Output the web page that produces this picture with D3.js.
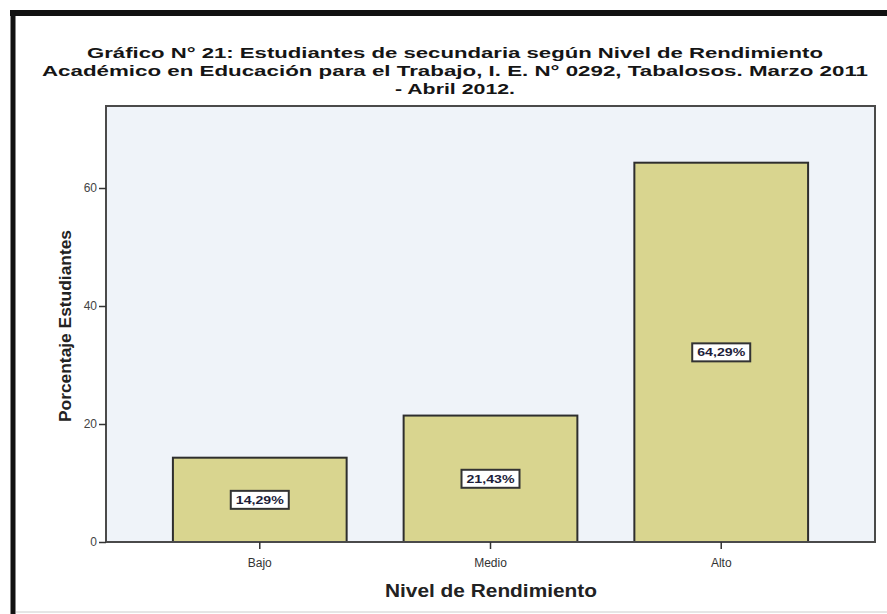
<!DOCTYPE html>
<html>
<head>
<meta charset="utf-8">
<script src="https://cdn.jsdelivr.net/npm/d3@7"></script>
<style>
  body { margin: 0; background: #fff; }
  svg { display: block; font-family: "Liberation Sans", Arial, sans-serif; }
</style>
</head>
<body>
<svg id="chart"></svg>
<script>
const WIDTH = 887;
const HEIGHT = 614;

// datos
const niveles = ["Bajo", "Medio", "Alto"];
const porcentajes = [14.29, 21.43, 64.29];
const etiquetas = ["14,29%", "21,43%", "64,29%"];
const yTicks = [0, 20, 40, 60];
const tituloLineas = [
  "Gráfico N° 21: Estudiantes de secundaria según Nivel de Rendimiento",
  "Académico en Educación para el Trabajo,  I. E. N° 0292, Tabalosos. Marzo 2011",
  "- Abril 2012."
];
const tituloAnchos = [736, 826, 120];

const plot = { left: 106, right: 875, top: 106, bottom: 542 };
const BAR_FILL = "#d9d58f";
const FONT = "Liberation Sans, Arial, sans-serif";

const svg = d3.select("#chart").attr("width", WIDTH).attr("height", HEIGHT);

// marco exterior
svg.append("rect").attr("x", 0).attr("y", 0).attr("width", WIDTH).attr("height", HEIGHT).attr("fill", "#fff");
svg.append("line").attr("x1", 10).attr("x2", WIDTH).attr("y1", 13).attr("y2", 13)
   .attr("stroke", "#111").attr("stroke-width", 6);
svg.append("line").attr("x1", 13).attr("x2", 13).attr("y1", 10).attr("y2", HEIGHT)
   .attr("stroke", "#111").attr("stroke-width", 5);
svg.append("line").attr("x1", 16).attr("x2", WIDTH).attr("y1", 612).attr("y2", 612)
   .attr("stroke", "#ccc").attr("stroke-width", 1);

// titulo (tres lineas, sin solaparse)
tituloLineas.forEach((t, i) => {
  svg.append("text")
     .attr("x", 455).attr("y", 58 + i * 18)
     .attr("text-anchor", "middle")
     .attr("font-weight", "bold")
     .attr("font-size", 15.5)
     .attr("fill", "#151515")
     .attr("textLength", tituloAnchos[i])
     .attr("lengthAdjust", "spacingAndGlyphs")
     .text(t);
});

const xScale = d3.scaleBand()
   .domain(niveles)
   .range([plot.left, plot.right])
   .paddingInner(0.247)
   .paddingOuter(0.29);

const yScale = d3.scaleLinear()
   .domain([0, 73.9])
   .range([plot.bottom, plot.top]);

// fondo del area
svg.append("rect")
   .attr("x", plot.left).attr("y", plot.top)
   .attr("width", plot.right - plot.left).attr("height", plot.bottom - plot.top)
   .attr("fill", "#eff3f9");

// barras
svg.selectAll("rect.bar")
   .data(niveles)
   .enter()
   .append("rect")
   .attr("class", "bar")
   .attr("x", d => xScale(d))
   .attr("y", (_, i) => yScale(porcentajes[i]))
   .attr("width", xScale.bandwidth())
   .attr("height", (_, i) => plot.bottom - yScale(porcentajes[i]))
   .attr("fill", BAR_FILL)
   .attr("stroke", "#2e2e2e")
   .attr("stroke-width", 2);

// marco del area
svg.append("rect")
   .attr("x", plot.left).attr("y", plot.top)
   .attr("width", plot.right - plot.left).attr("height", plot.bottom - plot.top)
   .attr("fill", "none")
   .attr("stroke", "#4a4a4a")
   .attr("stroke-width", 2);

// ejes
const axisY = svg.append("g")
   .attr("transform", `translate(${plot.left},0)`)
   .call(d3.axisLeft(yScale).tickValues(yTicks).tickSize(7).tickPadding(2));
axisY.select(".domain").remove();
axisY.selectAll("line").attr("stroke", "#333").attr("stroke-width", 1.5);
axisY.selectAll("text").attr("font-size", 12).attr("fill", "#444").attr("font-family", FONT);

const axisX = svg.append("g")
   .attr("transform", `translate(0,${plot.bottom})`)
   .call(d3.axisBottom(xScale).tickSize(7).tickPadding(9));
axisX.select(".domain").remove();
axisX.selectAll("line").attr("stroke", "#333").attr("stroke-width", 1.5);
axisX.selectAll("text").attr("font-size", 12).attr("fill", "#333").attr("font-family", FONT);

// etiquetas de porcentaje
const labels = svg.selectAll("g.lbl")
   .data(niveles)
   .enter()
   .append("g")
   .attr("class", "lbl")
   .attr("transform", (d, i) => `translate(${xScale(d) + xScale.bandwidth() / 2},${yScale(porcentajes[i] / 2)})`);
labels.append("rect")
   .attr("x", -29).attr("y", -9)
   .attr("width", 58).attr("height", 18)
   .attr("fill", "#fff")
   .attr("stroke", "#333")
   .attr("stroke-width", 2);
labels.append("text")
   .attr("text-anchor", "middle")
   .attr("dy", "0.36em")
   .attr("font-size", 11)
   .attr("font-weight", "bold")
   .attr("fill", "#1d1d3a")
   .attr("textLength", 48)
   .attr("lengthAdjust", "spacingAndGlyphs")
   .text((_, i) => etiquetas[i]);

// titulos de ejes
svg.append("text")
   .attr("x", 491).attr("y", 597)
   .attr("text-anchor", "middle")
   .attr("font-size", 18)
   .attr("font-weight", "bold")
   .attr("fill", "#222")
   .attr("textLength", 212)
   .attr("lengthAdjust", "spacingAndGlyphs")
   .text("Nivel de Rendimiento");

svg.append("text")
   .attr("transform", "translate(71,326) rotate(-90)")
   .attr("text-anchor", "middle")
   .attr("font-size", 17)
   .attr("font-weight", "bold")
   .attr("fill", "#222")
   .attr("textLength", 192)
   .attr("lengthAdjust", "spacingAndGlyphs")
   .text("Porcentaje Estudiantes");
</script>
</body>
</html>
